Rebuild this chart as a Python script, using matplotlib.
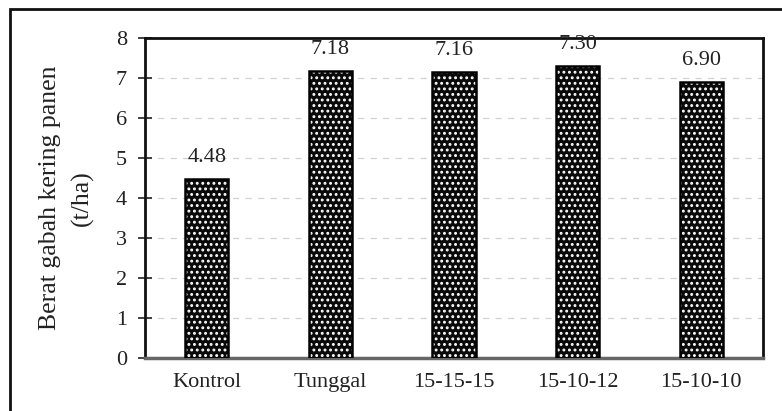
import matplotlib
matplotlib.use("Agg")
import matplotlib.pyplot as plt
from matplotlib.patches import Rectangle

categories = ["Kontrol", "Tunggal", "15-15-15", "15-10-12", "15-10-10"]
values = [4.48, 7.18, 7.16, 7.30, 6.90]
value_labels = ["4.48", "7.18", "7.16", "7.30", "6.90"]
yticks = [0, 1, 2, 3, 4, 5, 6, 7, 8]
ylabel = "Berat gabah kering panen\n(t/ha)"

plt.rcParams['font.family'] = ['Liberation Serif', 'DejaVu Serif']
plt.rcParams['hatch.linewidth'] = 1.3

fig = plt.figure(figsize=(7.82, 4.11), dpi=100)
ax = fig.add_axes([145/782, 1 - 358/411, (763-145)/782, (358-38)/411])

x = list(range(len(categories)))
# dark bars with white dot hatch
ax.bar(x, values, width=0.35, color='#0a0a0a', edgecolor='white',
       hatch='...', linewidth=0, zorder=3)
# outline
ax.bar(x, values, width=0.35, fill=False, edgecolor='black',
       linewidth=1.8, zorder=4)

for xi, v, lab in zip(x, values, value_labels):
    ax.annotate(lab, (xi, v), xytext=(0, 8.5), textcoords='offset points',
                ha='center', va='bottom', fontsize=16, color='#222222',
                zorder=6, annotation_clip=False)

ax.set_xlim(-0.5, len(categories) - 0.5)
ax.set_ylim(0, 8)
ax.set_yticks(yticks)
ax.set_xticks(x)
ax.set_xticklabels(categories)
ax.tick_params(axis='y', direction='inout', length=10, width=1.2,
               labelsize=16, pad=8, colors='#222222')
ax.tick_params(axis='x', length=0, labelsize=16, pad=11, colors='#222222')

ax.yaxis.grid(True, linestyle=(0, (5, 5)), color='#d2d2d2', linewidth=0.9, zorder=0)
ax.set_axisbelow(True)

for s in ['left', 'top', 'right']:
    ax.spines[s].set_linewidth(2.0)
    ax.spines[s].set_color('#111111')
ax.spines['bottom'].set_linewidth(2.5)
ax.spines['bottom'].set_color('#666666')

fig.text(66/782, 1 - 198/411, ylabel, rotation=90, ha='center', va='center',
         fontsize=18.5, linespacing=1.55, color='#222222', multialignment='center')

# outer chart frame (only left and top visible)
fig.patches.append(Rectangle((10/782, -0.05), 1.2, 1 - 9/411 + 0.05,
                             transform=fig.transFigure, fill=False,
                             edgecolor='#111111', linewidth=2.0))

fig.savefig("out.png", dpi=100)
